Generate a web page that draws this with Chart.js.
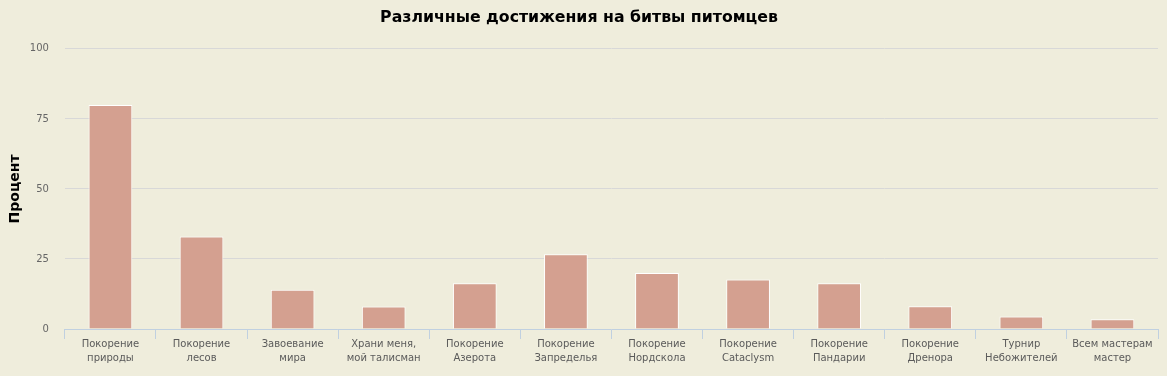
<!DOCTYPE html>
<html>
<head>
<meta charset="utf-8">
<script src="https://cdn.jsdelivr.net/npm/chart.js@4.4.0/dist/chart.umd.min.js"></script>
<style>
  html, body { margin: 0; padding: 0; background: #efeddc; }
  #wrap { width: 1167px; height: 376px; }
</style>
</head>
<body>
<div id="wrap"><canvas id="pets-chart"></canvas></div>
<script>
// Категории и значения
const categories = [
  ['Покорение', 'природы'],
  ['Покорение', 'лесов'],
  ['Завоевание', 'мира'],
  ['Храни меня,', 'мой талисман'],
  ['Покорение', 'Азерота'],
  ['Покорение', 'Запределья'],
  ['Покорение', 'Нордскола'],
  ['Покорение', 'Cataclysm'],
  ['Покорение', 'Пандарии'],
  ['Покорение', 'Дренора'],
  ['Турнир', 'Небожителей'],
  ['Всем мастерам', 'мастер']
];
const percents = [80, 33, 14, 8, 16.3, 26.7, 20, 17.7, 16.3, 8.1, 4.5, 3.5];
const yTicks = [0, 25, 50, 75, 100];

const fontFamily = '"DejaVu Sans", Verdana, sans-serif';

const data1 = {
  labels: categories,
  datasets: [{
    label: 'Процент',
    data: percents,
    backgroundColor: '#d4a090',
    borderColor: '#ffffff',
    borderWidth: 1,
    barPercentage: 0.48,
    categoryPercentage: 1
  }]
};

const options1 = {
  responsive: true,
  maintainAspectRatio: false,
  animation: false,
  layout: { padding: { left: 0, right: 9, top: 0, bottom: 13 } },
  plugins: {
    legend: { display: false },
    tooltip: { enabled: false },
    title: {
      display: true,
      text: 'Различные достижения на битвы питомцев',
      color: '#000000',
      font: { family: fontFamily, size: 15.75, weight: 'bold' },
      padding: { top: 8, bottom: 22 }
    }
  },
  scales: {
    x: {
      grid: {
        display: true,
        drawOnChartArea: false,
        drawTicks: true,
        tickLength: 10,
        color: '#c0d0e0',
        offset: true
      },
      border: { display: true, color: '#c0d0e0', width: 1 },
      ticks: {
        color: '#5a5a5a',
        font: { family: fontFamily, size: 10, lineHeight: '14px' },
        maxRotation: 0,
        autoSkip: false,
        padding: -2
      }
    },
    y: {
      min: 0,
      max: 100,
      afterBuildTicks: (axis) => { axis.ticks = yTicks.map(v => ({ value: v })); },
      grid: { color: '#d8d8d8', drawTicks: true, tickLength: 16, tickColor: 'transparent' },
      border: { display: false },
      ticks: {
        color: '#666666',
        font: { family: fontFamily, size: 10 },
        padding: 0
      },
      title: {
        display: true,
        text: 'Процент',
        color: '#000000',
        font: { family: fontFamily, size: 14, weight: 'bold' },
        padding: { top: 7, bottom: 6 }
      }
    }
  }
};

new Chart(document.getElementById('pets-chart'), {
  type: 'bar',
  data: data1,
  options: options1
});
</script>
</body>
</html>
